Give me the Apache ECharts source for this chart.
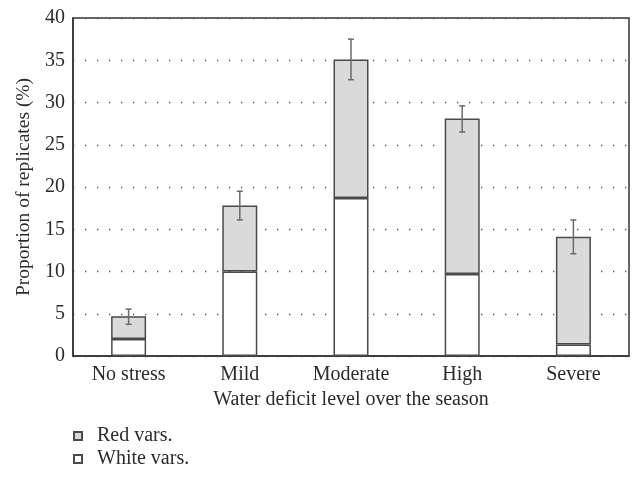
<!DOCTYPE html>
<html>
<head>
<meta charset="utf-8">
<script src="https://cdn.jsdelivr.net/npm/echarts@6/dist/echarts.min.js"></script>
<style>
html, body { margin: 0; padding: 0; background: #fff; }
#main { width: 632px; height: 477px; }
</style>
</head>
<body>
<div id="main"></div>
<script>
const categories = ['No stress', 'Mild', 'Moderate', 'High', 'Severe'];
const whiteVars = [2.0, 10.0, 18.7, 9.7, 1.35];
const redVars = [2.7, 7.8, 16.4, 18.4, 12.75]; // stacked on top of white
const errLow = [3.75, 16.1, 32.7, 26.5, 12.1];
const errHigh = [5.55, 19.5, 37.5, 29.6, 16.1];

const font = 'Liberation Serif';
const textColor = '#2b2b2b';
const edge = '#4a4a4a';

echarts.init(document.getElementById('main')).setOption({
  animation: false,
  textStyle: { fontFamily: font, color: textColor },
  grid: {
    left: 73, right: 3, top: 18, bottom: 121,
    show: true, borderColor: '#333', borderWidth: 1.5, backgroundColor: 'transparent',
  },
  legend: {
    orient: 'vertical',
    left: 73, top: 426, height: 60, padding: 0,
    itemWidth: 8, itemHeight: 8, itemGap: 3,
    icon: 'rect',
    textStyle: { fontFamily: font, fontSize: 20, color: textColor, padding: [0, 0, 0, 10] },
    data: ['Red vars.', 'White vars.'],
  },
  xAxis: {
    type: 'category',
    data: categories,
    name: 'Water deficit level over the season',
    nameLocation: 'middle',
    nameGap: 33,
    nameTextStyle: { fontFamily: font, fontSize: 20, color: textColor },
    axisLine: { lineStyle: { color: '#333', width: 1.5 } },
    axisTick: { show: false },
    axisLabel: { fontFamily: font, fontSize: 20, color: textColor, margin: 9 },
  },
  yAxis: {
    type: 'value',
    min: 0, max: 40, interval: 5,
    name: 'Proportion of replicates (%)',
    nameLocation: 'middle',
    nameGap: 37,
    nameTextStyle: { fontFamily: font, fontSize: 19.5, color: textColor },
    axisLine: { show: true, lineStyle: { color: '#333', width: 1.5 } },
    axisTick: { show: false },
    axisLabel: { fontFamily: font, fontSize: 20, color: textColor, margin: 8 },
    splitLine: { show: true, lineStyle: { color: '#555', width: 1.3, type: [1.3, 10.7], dashOffset: -12 } },
  },
  series: [
    {
      name: 'White vars.',
      type: 'bar',
      stack: 'total',
      barWidth: 35,
      data: whiteVars,
      itemStyle: { color: '#fff', borderColor: edge, borderWidth: 1.5 },
    },
    {
      name: 'Red vars.',
      type: 'bar',
      stack: 'total',
      barWidth: 35,
      data: redVars,
      itemStyle: { color: '#dadada', borderColor: edge, borderWidth: 1.5 },
    },
    {
      type: 'custom',
      name: 'error',
      z: 5,
      data: categories.map((c, i) => [i, errLow[i], errHigh[i]]),
      renderItem: (params, api) => {
        const lo = api.coord([api.value(0), api.value(1)]);
        const hi = api.coord([api.value(0), api.value(2)]);
        const w = 3;
        const style = { stroke: '#6a6a6a', lineWidth: 1.5 };
        return {
          type: 'group',
          children: [
            { type: 'line', shape: { x1: lo[0], y1: lo[1], x2: hi[0], y2: hi[1] }, style },
            { type: 'line', shape: { x1: lo[0] - w, y1: lo[1], x2: lo[0] + w, y2: lo[1] }, style },
            { type: 'line', shape: { x1: hi[0] - w, y1: hi[1], x2: hi[0] + w, y2: hi[1] }, style },
          ],
        };
      },
    },
  ],
});
</script>
</body>
</html>
